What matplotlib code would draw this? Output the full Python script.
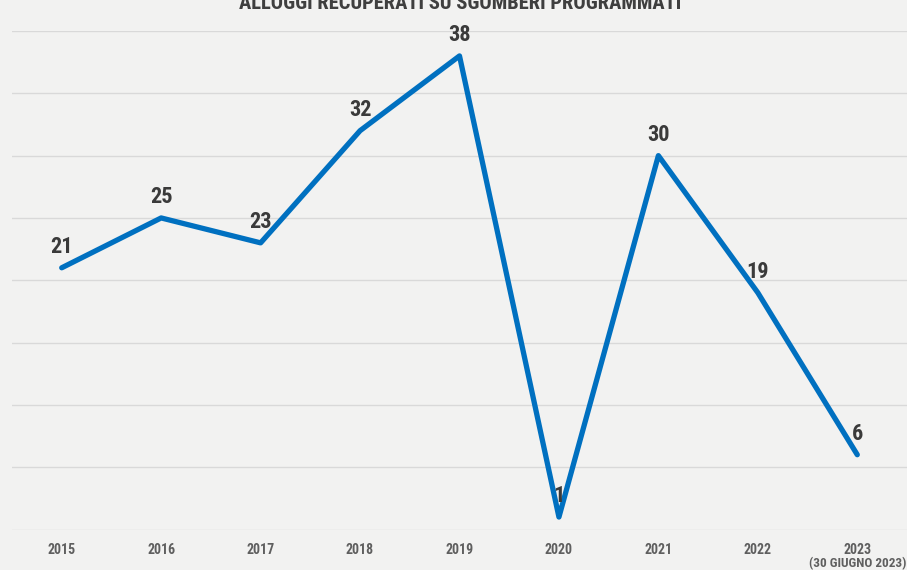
import matplotlib.pyplot as plt
from matplotlib import font_manager

# data
years = ['2015', '2016', '2017', '2018', '2019', '2020', '2021', '2022', '2023']
note_2023 = '(30 GIUGNO 2023)'
alloggi = [21, 25, 23, 32, 38, 1, 30, 19, 6]

# condensed bold font if one is around
names = {f.name for f in font_manager.fontManager.ttflist}
condensed = [f for f in font_manager.fontManager.ttflist
             if f.name == 'DejaVu Sans' and 'condensed' in str(f.stretch)]
fam = ['DejaVu Sans']
stretch = 'normal'
for cand in ['Liberation Sans Narrow', 'Roboto Condensed', 'Open Sans Condensed', 'DejaVu Sans Condensed']:
    if cand in names:
        fam = [cand, 'DejaVu Sans']
        break
else:
    if condensed:
        stretch = 'condensed'
plt.rcParams['font.family'] = fam
plt.rcParams['font.stretch'] = stretch

bg = '#f2f2f1'
fig = plt.figure(figsize=(9.07, 5.7), dpi=100, facecolor=bg)
ax = fig.add_axes([12 / 907, 1 - 529.5 / 570, 1 - 12 / 907, (529.5 - 31) / 570])
ax.set_facecolor(bg)

x = list(range(len(years)))
ax.plot(x, alloggi, color='#0070c0', linewidth=3.8, solid_capstyle='round', zorder=3)

for xi, v in zip(x, alloggi):
    ax.annotate(str(v), xy=(xi, v), xytext=(0, 7), textcoords='offset points',
                ha='center', va='bottom', fontsize=16, fontweight='bold',
                color='#3a3a3a', zorder=4)

ax.set_xlim(-0.5, len(years) - 0.5)
ax.set_ylim(0, 40)
ax.set_yticks(range(0, 41, 5))
ax.set_yticklabels([])
ax.yaxis.grid(True, color='#d9d9d9', linewidth=1)
ax.set_axisbelow(True)
ax.tick_params(length=0)
ax.set_xticks(x)
ax.set_xticklabels(years, fontsize=10, fontweight='bold', color='#5f5f5f')
ax.tick_params(axis='x', pad=9.5)
for s in ax.spines.values():
    s.set_visible(False)

fig.text(0.9995, 1 - 563.5 / 570, note_2023, ha='right', va='center',
         fontsize=9.5, fontweight='bold', color='#5f5f5f')

fig.text(0.507, 0.993, 'ALLOGGI RECUPERATI SU SGOMBERI PROGRAMMATI', ha='center', va='center',
         fontsize=14.8, fontweight='bold', color='#3f3f3f')

fig.savefig('out.png', dpi=100, facecolor=bg)
